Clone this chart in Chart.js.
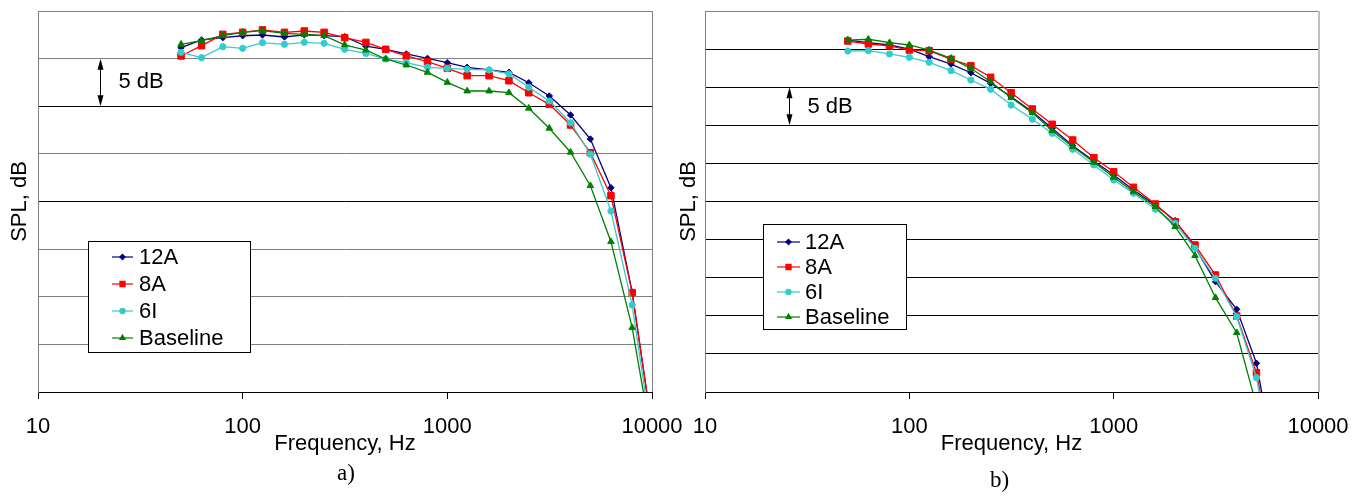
<!DOCTYPE html>
<html><head><meta charset="utf-8">
<script src="https://cdn.jsdelivr.net/npm/chart.js@4/dist/chart.umd.min.js"></script>
<style>
html,body{margin:0;padding:0;background:#fff;}
body{width:1368px;height:496px;position:relative;overflow:hidden;}
canvas{position:absolute;top:0;}
#ca{left:0;}
#cb{left:672px;}
.cap{position:absolute;font-family:"Liberation Serif","Times New Roman",serif;font-size:23px;color:#000;line-height:1;}
#la{left:337px;top:461px;}
#lb{left:990px;top:468px;}
</style></head><body>
<canvas id="ca" width="690" height="496"></canvas>
<canvas id="cb" width="696" height="496"></canvas>
<div class="cap" id="la">a)</div>
<div class="cap" id="lb">b)</div>
<script>
// ---------- data ----------
const freqs = [50,63,80,100,125,160,200,250,315,400,500,630,800,1000,1250,1600,2000,2500,3150,4000,5000,6300,8000,10000];
const seriesNames = ['12A','8A','6I','Baseline'];
const xTickValues = [10,100,1000,10000];

// panel a) relative SPL, dB
const a12A  = [36.15,36.96,37.20,37.40,37.48,37.27,37.50,37.41,37.30,36.30,35.98,35.49,35.03,34.57,34.09,33.81,33.56,32.47,31.08,29.08,26.56,21.45,10.50,-3.8];
const a8A   = [35.28,36.36,37.55,37.76,38.01,37.76,37.90,37.76,37.20,36.70,35.98,35.28,34.68,33.98,33.21,33.21,32.68,31.42,30.20,28.03,25.12,20.61,10.43,-3.8];
const a6I   = [35.66,35.10,36.25,36.08,36.67,36.50,36.71,36.61,35.98,35.55,34.96,34.57,34.09,33.98,33.88,33.81,33.39,31.99,30.55,28.27,24.96,19.00,9.13,-4.9];
const aBase = [36.50,36.90,37.41,37.76,37.95,37.66,37.55,37.41,36.45,35.90,34.96,34.33,33.56,32.51,31.60,31.60,31.42,29.79,27.69,25.17,21.66,15.78,6.75,-5.2];

// panel b) relative SPL, dB
const b12A  = [46.19,45.84,45.54,45.01,44.00,43.04,41.90,40.51,38.75,36.78,34.61,32.32,30.31,28.48,26.51,24.54,22.48,18.99,14.48,10.85,3.77,-11.2];
const b8A   = [46.06,45.67,45.41,44.88,44.79,43.66,42.82,41.30,39.28,37.14,35.13,33.07,30.75,28.91,26.86,24.67,22.35,19.29,15.35,9.97,2.53,-11.8];
const b6I   = [44.75,44.79,44.36,43.92,43.27,42.17,40.94,39.72,37.66,35.79,33.95,31.85,29.79,27.82,26.08,23.98,22.14,18.86,14.92,9.88,1.88,-12.0];
const bBase = [46.19,46.29,45.84,45.54,44.88,43.79,42.48,40.72,38.62,36.65,34.29,32.19,30.14,28.18,26.29,24.32,21.69,17.89,12.38,7.78,-1.8,-15.0];

// ---------- styles ----------
const FONT = "'Liberation Sans', Arial, Helvetica, sans-serif";
const seriesStyle = {
  '12A':      {color:'#000080', pointStyle:'rectRot',  r:3.2, lr:2.6},
  '8A':       {color:'#FF0000', pointStyle:'rect',     r:4.6, lr:3.6},
  '6I':       {color:'#33CCCC', pointStyle:'circle',   r:3.1, lr:2.6},
  'Baseline': {color:'#008000', pointStyle:'triangle', r:3.8, lr:3.0}
};

function buildDatasets(valueLists){
  return seriesNames.map((name,i)=>{
    const st = seriesStyle[name];
    return {
      label:name,
      data: valueLists[i].map((v,j)=>({x:freqs[j], y:v})),
      borderColor:st.color, backgroundColor:st.color,
      pointBackgroundColor:st.color, pointBorderColor:st.color,
      pointStyle:st.pointStyle, pointRadius:st.r, pointBorderWidth:1,
      pointHoverRadius:st.r,
      borderWidth:1.3, tension:0, fill:false, order:4-i
    };
  });
}

const deco = {
  id:'deco',
  afterDraw(chart, args, o){
    const ctx = chart.ctx, ca = chart.chartArea;
    const xs = chart.scales.x, ys = chart.scales.y;
    ctx.save();
    // right frame line
    ctx.strokeStyle = o.rightColor; ctx.lineWidth = o.rightWidth;
    ctx.beginPath();
    const rx = Math.round(ca.right) + o.rightWidth/2;
    ctx.moveTo(rx, ca.top); ctx.lineTo(rx, ca.bottom); ctx.stroke();

    // 5 dB double arrow
    const ax = Math.round(xs.getPixelForValue(o.arrowFreq)) + 0.5;
    const y1 = ys.getPixelForValue(o.arrowTop), y2 = ys.getPixelForValue(o.arrowBottom);
    ctx.strokeStyle = '#000'; ctx.fillStyle = '#000'; ctx.lineWidth = 1;
    ctx.beginPath(); ctx.moveTo(ax, y1 + 4); ctx.lineTo(ax, y2 - 4); ctx.stroke();
    ctx.beginPath(); ctx.moveTo(ax, y1); ctx.lineTo(ax - 3, y1 + 11); ctx.lineTo(ax + 3, y1 + 11); ctx.closePath(); ctx.fill();
    ctx.beginPath(); ctx.moveTo(ax, y2); ctx.lineTo(ax - 3, y2 - 11); ctx.lineTo(ax + 3, y2 - 11); ctx.closePath(); ctx.fill();
    ctx.font = '22px ' + FONT; ctx.textBaseline = 'middle'; ctx.textAlign = 'left';
    ctx.fillText(o.arrowText, ax + o.textDx, (y1 + y2)/2 + o.textDy);

    // legend box
    const L = o.legend;
    ctx.fillStyle = '#fff';
    ctx.fillRect(L.x, L.y, L.w, L.h);
    ctx.strokeStyle = '#000'; ctx.lineWidth = 1;
    ctx.strokeRect(L.x + 0.5, L.y + 0.5, L.w, L.h);
    chart.data.datasets.forEach((ds, i) => {
      const st = seriesStyle[ds.label];
      const yy = L.y + L.row0 + i * L.rowH;
      ctx.strokeStyle = st.color; ctx.fillStyle = st.color; ctx.lineWidth = 1.2;
      ctx.beginPath(); ctx.moveTo(L.x + L.lx1, yy); ctx.lineTo(L.x + L.lx2, yy); ctx.stroke();
      const mx = L.x + (L.lx1 + L.lx2)/2;
      if (Chart.helpers && Chart.helpers.drawPoint) {
        Chart.helpers.drawPoint(ctx, {pointStyle:st.pointStyle, radius:st.lr, borderWidth:1, rotation:0}, mx, yy);
      }
      ctx.fillStyle = '#000';
      ctx.font = '22px ' + FONT; ctx.textBaseline = 'middle'; ctx.textAlign = 'left';
      ctx.fillText(ds.label, L.x + L.tx, yy + 1);
    });
    ctx.restore();
  }
};

function makeChart(canvasId, valueLists, p){
  return new Chart(document.getElementById(canvasId), {
    type:'line',
    data:{ datasets: buildDatasets(valueLists) },
    plugins:[deco],
    options:{
      responsive:false, animation:false, events:[],
      layout:{ padding:{ left:0, top:11, right:p.padRight, bottom:38 } },
      plugins:{
        legend:{display:false}, tooltip:{enabled:false},
        deco:p.deco
      },
      scales:{
        x:{
          type:'logarithmic', min:10, max:10000, position:'bottom',
          afterBuildTicks: s => { s.ticks = xTickValues.map(v => ({value:v})); },
          afterFit: s => { s.paddingLeft = 0; s.paddingRight = 0; s.height = 66; },
          ticks:{ font:{family:FONT, size:22}, color:'#000', padding:15, maxRotation:0, autoSkip:false,
                  callback: v => String(v) },
          grid:{ drawOnChartArea:false, drawTicks:true, tickLength:7, color:'#000', tickColor:'#000', lineWidth:1 },
          border:{ display:true, color:'#000', width:1 },
          title:{ display:true, text:'Frequency, Hz', font:{family:FONT, size:22}, color:'#000', padding:{top:0, bottom:1} }
        },
        y:{
          type:'linear', min:0, max:p.yMax, position:'left',
          afterFit: s => { s.width = p.yWidth; s.paddingTop = 0; s.paddingBottom = 0; },
          ticks:{ display:false, stepSize:5 },
          grid:{ drawTicks:false, lineWidth:1, color: c => p.gridColor(c.tick ? c.tick.value : 0) },
          border:{ display:true, color:'#808080', width:1 },
          title:{ display:true, text:'SPL, dB', font:{family:FONT, size:22}, color:'#000', padding:{top:p.yTitlePad, bottom:0} }
        }
      }
    }
  });
}

makeChart('ca', [a12A, a8A, a6I, aBase], {
  padRight:38, yMax:40, yWidth:38, yTitlePad:7,
  gridColor: v => (v === 30 || v === 20 || v === 0) ? '#000' : '#808080',
  deco:{
    rightColor:'#808080', rightWidth:1,
    arrowFreq:20, arrowTop:35, arrowBottom:30, arrowText:'5 dB', textDx:18, textDy:-1,
    legend:{x:88, y:241, w:162, h:111, lx1:24, lx2:45, tx:51, row0:16, rowH:27}
  }
});

makeChart('cb', [b12A, b8A, b6I, bBase], {
  padRight:50, yMax:50, yWidth:33, yTitlePad:4,
  gridColor: v => (v === 50) ? '#808080' : '#000',
  deco:{
    rightColor:'#C0C0C0', rightWidth:2,
    arrowFreq:25.8, arrowTop:40, arrowBottom:35, arrowText:'5 dB', textDx:18, textDy:1,
    legend:{x:91, y:224, w:143, h:105, lx1:14, lx2:37, tx:42, row0:18, rowH:25}
  }
});
</script>
</body></html>
